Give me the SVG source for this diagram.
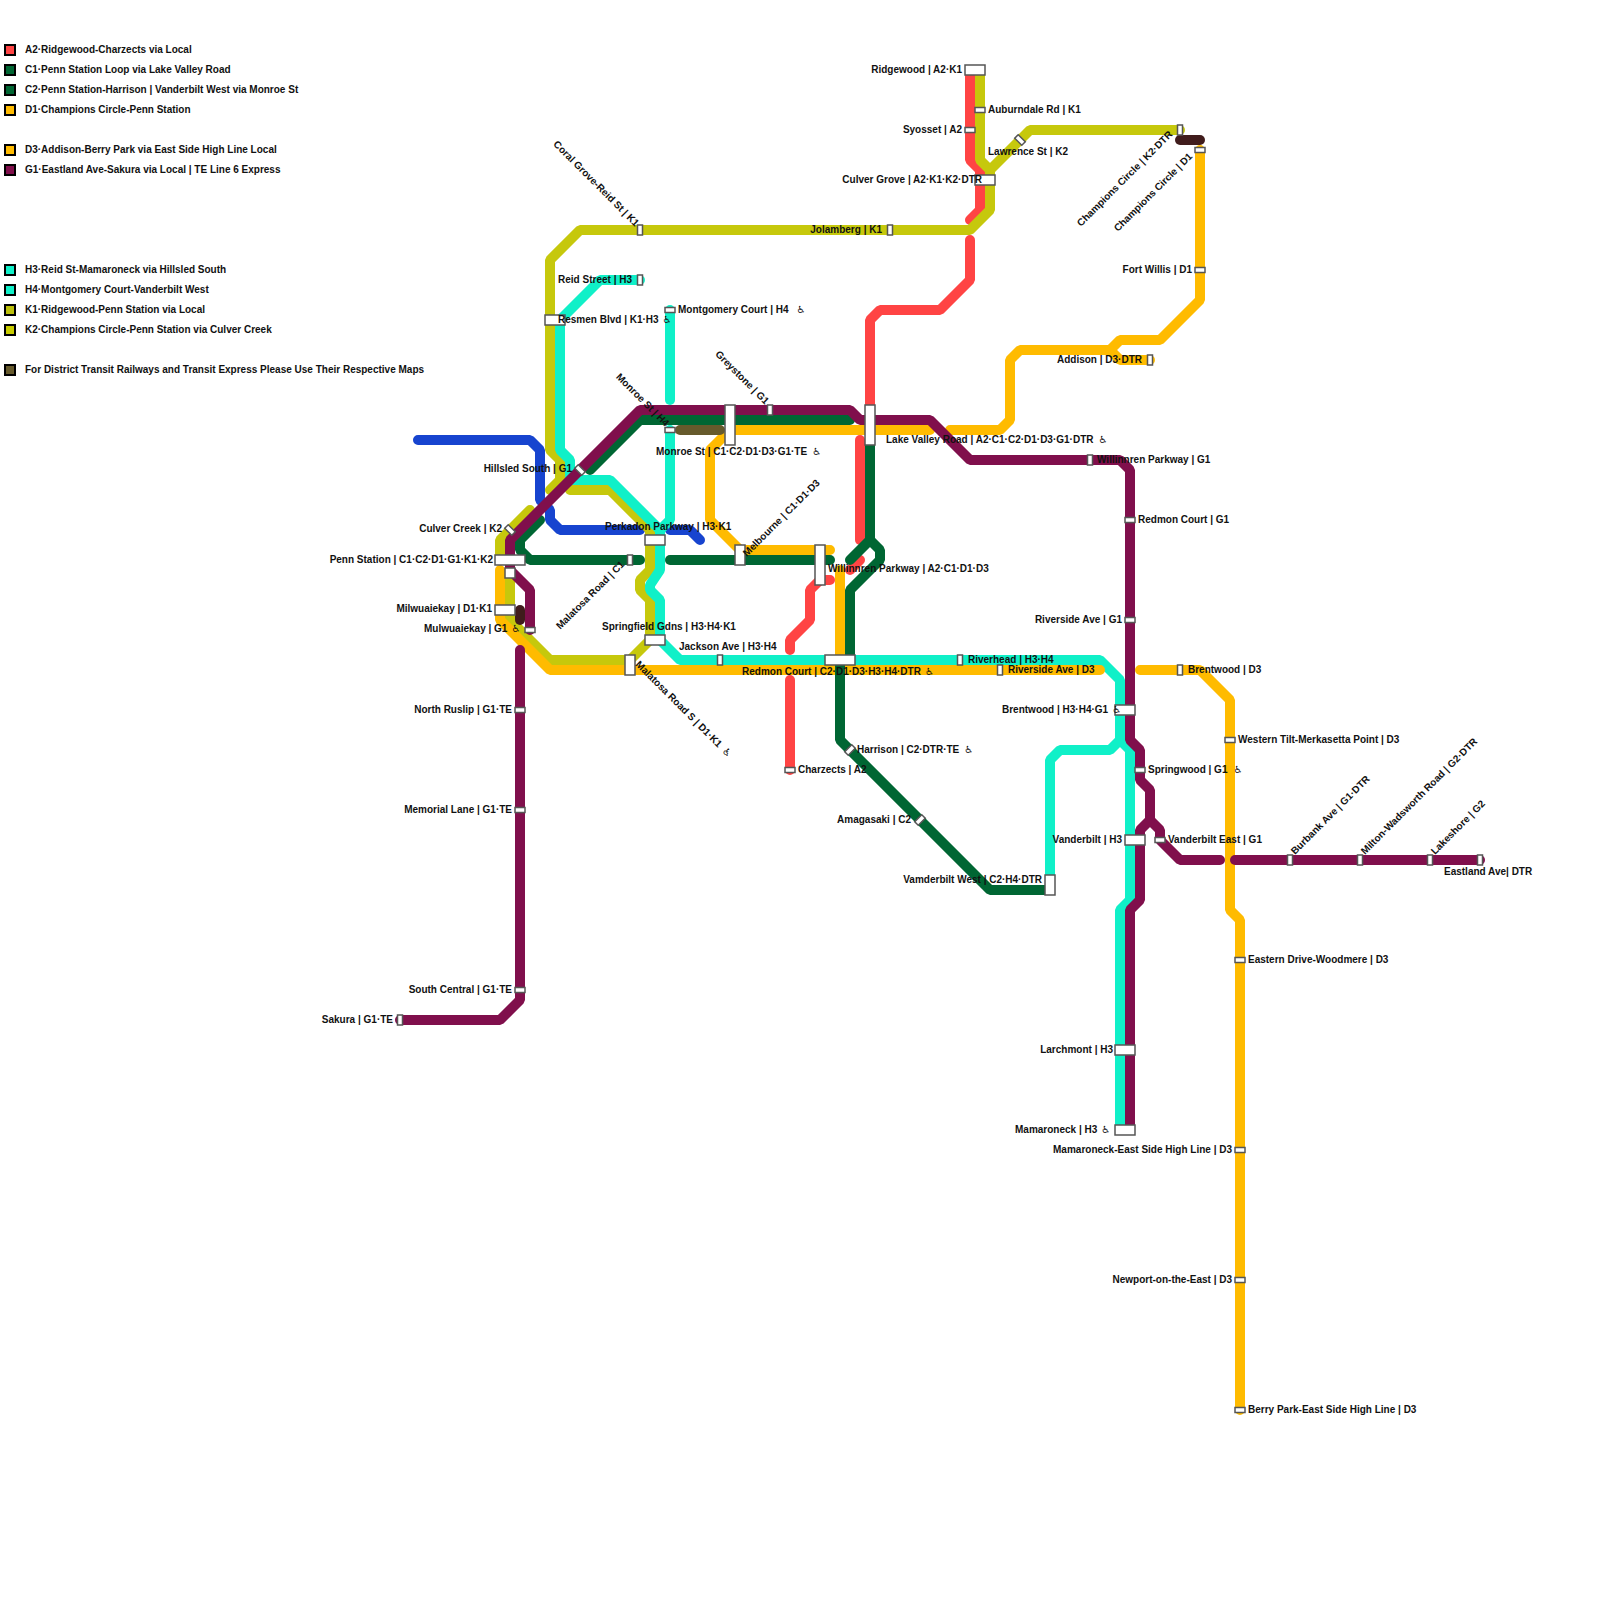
<svg xmlns="http://www.w3.org/2000/svg" width="1600" height="1600" viewBox="0 0 1600 1600">
<style>
text{font-family:"Liberation Sans",Arial,"DejaVu Sans",sans-serif;font-size:10px;font-weight:bold;fill:#111}
.e{text-anchor:end}
.w{font-family:"DejaVu Sans",sans-serif;font-weight:normal}
.k{fill:none;stroke-width:10;stroke-linecap:round;stroke-linejoin:bevel}
.a{stroke:#ff4444}.c{stroke:#006633}.d{stroke:#ffbb00}.g{stroke:#800f4c}.h{stroke:#10f0c8}.y{stroke:#c6c80c}.b{stroke:#1744cf}.o{stroke:#665a2c}.m{stroke:#401c1c}
.st{fill:#fff;stroke:#555;stroke-width:1.5}
.lg{stroke:#000;stroke-width:2}
</style>
<rect width="1600" height="1600" fill="#fff"/>
<g id="legend">
<rect class="lg" x="5" y="45" width="10" height="10" fill="#ff4444"/><text x="25" y="53">A2·Ridgewood-Charzects via Local</text>
<rect class="lg" x="5" y="65" width="10" height="10" fill="#006633"/><text x="25" y="73">C1·Penn Station Loop via Lake Valley Road</text>
<rect class="lg" x="5" y="85" width="10" height="10" fill="#006633"/><text x="25" y="93">C2·Penn Station-Harrison | Vanderbilt West via Monroe St</text>
<rect class="lg" x="5" y="105" width="10" height="10" fill="#ffbb00"/><text x="25" y="113">D1·Champions Circle-Penn Station</text>
<rect class="lg" x="5" y="145" width="10" height="10" fill="#ffbb00"/><text x="25" y="153">D3·Addison-Berry Park via East Side High Line Local</text>
<rect class="lg" x="5" y="165" width="10" height="10" fill="#800f4c"/><text x="25" y="173">G1·Eastland Ave-Sakura via Local | TE Line 6 Express</text>
<rect class="lg" x="5" y="265" width="10" height="10" fill="#10f0c8"/><text x="25" y="273">H3·Reid St-Mamaroneck via Hillsled South</text>
<rect class="lg" x="5" y="285" width="10" height="10" fill="#10f0c8"/><text x="25" y="293">H4·Montgomery Court-Vanderbilt West</text>
<rect class="lg" x="5" y="305" width="10" height="10" fill="#bcc00c"/><text x="25" y="313">K1·Ridgewood-Penn Station via Local</text>
<rect class="lg" x="5" y="325" width="10" height="10" fill="#c8cc00"/><text x="25" y="333">K2·Champions Circle-Penn Station via Culver Creek</text>
<rect class="lg" x="5" y="365" width="10" height="10" fill="#665a2c"/><text x="25" y="373">For District Transit Railways and Transit Express Please Use Their Respective Maps</text>
</g>
<g id="connectors">
<polyline class="k a" points="970,70 970,160 980,170 980,210 970,220"/>
<polyline class="k a" points="970,240 970,280 940,310 880,310 870,320 870,420"/>
<polyline class="k a" points="860,440 860,540"/>
<polyline class="k a" points="850,570 860,560"/>
<polyline class="k a" points="830,580 820,580 810,590 810,620 790,640 790,650"/>
<polyline class="k a" points="790,680 790,770"/>
<polyline class="k b" points="418,440 530,440 540,450 540,500 550,510 550,520 560,530 640,530"/>
<polyline class="k b" points="670,530 690,530 700,540"/>
<polyline class="k y" points="980,70 980,160 990,170 990,210 970,230 580,230 550,260 550,450 560,460 560,480 550,490"/>
<polyline class="k y" points="570,490 610,490 650,530 650,570 640,580 640,590 650,600 650,640 630,660 550,660 510,620 510,570"/>
<polyline class="k y" points="1180,130 1030,130 990,170"/>
<polyline class="k y" points="500,560 500,540 530,510"/>
<polyline class="k h" points="640,280 600,280 560,320 560,450 570,460 570,480 610,480 660,530 660,570 650,585 650,590 660,600 660,640 680,660 1100,660 1120,680 1120,740 1130,750 1130,900 1120,910 1120,1130"/>
<polyline class="k h" points="1120,740 1110,750 1060,750 1050,760 1050,880"/>
<polyline class="k h" points="670,310 670,400"/>
<polyline class="k h" points="670,430 670,520 660,530"/>
<polyline class="k d" points="1200,150 1200,300 1160,340 1120,340 1110,350 1020,350 1010,360 1010,420 1000,430 950,430"/>
<polyline class="k d" points="1150,360 1120,360 1110,350"/>
<polyline class="k d" points="930,430 730,430 710,450 710,520 740,550 830,550"/>
<polyline class="k d" points="840,570 840,660"/>
<polyline class="k d" points="500,570 500,620 550,670 1100,670"/>
<polyline class="k d" points="1140,670 1200,670 1230,700 1230,910 1240,920 1240,1410"/>
<polyline class="k o" points="680,430 720,430"/>
<polyline class="k m" points="520,610 520,620"/>
<polyline class="k m" points="1180,140 1200,140"/>
<polyline class="k c" points="850,420 640,420 590,470"/>
<polyline class="k c" points="540,520 520,540 520,550 530,560 640,560"/>
<polyline class="k c" points="670,560 830,560"/>
<polyline class="k c" points="870,420 870,540 850,560"/>
<polyline class="k c" points="870,540 880,550 880,560 850,590 850,660"/>
<polyline class="k c" points="840,660 840,740 990,890 1050,890"/>
<polyline class="k g" points="1480,860 1235,860"/>
<polyline class="k g" points="1220,860 1180,860 1160,840 1160,830 1150,820 1150,790 1140,780 1140,750 1130,740 1130,470 1120,460 970,460 930,420 860,420 850,410 640,410 510,540 510,570 520,580 530,590 530,630"/>
<polyline class="k g" points="1150,820 1140,830 1140,900 1130,910 1130,1130"/>
<polyline class="k g" points="520,650 520,1000 500,1020 400,1020"/>
</g>
<g id="n01"><rect class="st" x="965" y="65" width="20" height="10"/><text class="e" x="962" y="73">Ridgewood | A2·K1</text></g>
<g id="n02"><rect class="st" x="975" y="107.500" width="10" height="5"/><text x="988" y="113">Auburndale Rd | K1</text></g>
<g id="n03"><rect class="st" x="965" y="127.500" width="10" height="5"/><text class="e" x="962" y="133">Syosset | A2</text></g>
<g id="n04"><rect class="st" x="-2.500" y="-5" width="5" height="10" transform="translate(1020,140) rotate(-45)"/><text x="988" y="155">Lawrence St | K2</text></g>
<g id="n05"><rect class="st" x="975" y="175" width="20" height="10"/><text class="e" x="982" y="183">Culver Grove | A2·K1·K2·DTR</text></g>
<g id="n06"><rect class="st" x="887.500" y="225" width="5" height="10"/><text class="e" x="882" y="233">Jolamberg | K1</text></g>
<g id="n07"><rect class="st" x="1177.500" y="125" width="5" height="10"/><text class="e" transform="translate(1173,135) rotate(-45)">Champions Circle | K2·DTR</text></g>
<g id="n08"><rect class="st" x="1195" y="147.500" width="10" height="5"/><text class="e" transform="translate(1193,157) rotate(-45)">Champions Circle | D1</text></g>
<g id="n09"><rect class="st" x="1195" y="267.500" width="10" height="5"/><text class="e" x="1192" y="273">Fort Willis | D1</text></g>
<g id="n10"><rect class="st" x="1147.500" y="355" width="5" height="10"/><text class="e" x="1142" y="363">Addison | D3·DTR</text></g>
<g id="n11"><rect class="st" x="637.500" y="225" width="5" height="10"/><text class="e" transform="translate(635,227) rotate(45)">Coral Grove-Reid St | K1</text></g>
<g id="n12"><rect class="st" x="637.500" y="275" width="5" height="10"/><text class="e" x="632" y="283">Reid Street | H3</text></g>
<g id="n13"><rect class="st" x="665" y="307.500" width="10" height="5"/><text x="678" y="313">Montgomery Court | H4<tspan class="w" dx="8">♿</tspan></text></g>
<g id="n14"><rect class="st" x="545" y="315" width="20" height="10"/><text x="558" y="323">Resmen Blvd | K1·H3<tspan class="w" dx="4">♿</tspan></text></g>
<g id="n15"><rect class="st" x="767.500" y="405" width="5" height="10"/><text class="e" transform="translate(765,405) rotate(45)">Greystone | G1</text></g>
<g id="n16"><rect class="st" x="665" y="427.500" width="10" height="5"/><text class="e" transform="translate(665,427) rotate(45)">Monroe St | H4</text></g>
<g id="n17"><rect class="st" x="725" y="405" width="10" height="40"/><text x="656" y="455">Monroe St | C1·C2·D1·D3·G1·TE<tspan class="w" dx="5">♿</tspan></text></g>
<g id="n18"><rect class="st" x="865" y="405" width="10" height="40"/><text x="886" y="443">Lake Valley Road | A2·C1·C2·D1·D3·G1·DTR<tspan class="w" dx="5">♿</tspan></text></g>
<g id="n19"><rect class="st" x="1087.500" y="455" width="5" height="10"/><text x="1097" y="463">Willinnren Parkway | G1</text></g>
<g id="n20"><rect class="st" x="1125" y="517.500" width="10" height="5"/><text x="1138" y="523">Redmon Court | G1</text></g>
<g id="n21"><rect class="st" x="1125" y="617.500" width="10" height="5"/><text class="e" x="1122" y="623">Riverside Ave | G1</text></g>
<g id="n22"><rect class="st" x="997.500" y="665" width="5" height="10"/><text x="1008" y="673">Riverside Ave | D3</text></g>
<g id="n23"><rect class="st" x="957.500" y="655" width="5" height="10"/><text x="968" y="663">Riverhead | H3·H4</text></g>
<g id="n24"><rect class="st" x="1177.500" y="665" width="5" height="10"/><text x="1188" y="673">Brentwood | D3</text></g>
<g id="n25"><rect class="st" x="1115" y="705" width="20" height="10"/><text x="1002" y="713">Brentwood | H3·H4·G1<tspan class="w" dx="4">♿</tspan></text></g>
<g id="n26"><rect class="st" x="1225" y="737.500" width="10" height="5"/><text x="1238" y="743">Western Tilt-Merkasetta Point | D3</text></g>
<g id="n27"><rect class="st" x="1135" y="767.500" width="10" height="5"/><text x="1148" y="773">Springwood | G1<tspan class="w" dx="6">♿</tspan></text></g>
<g id="n28"><rect class="st" x="1125" y="835" width="20" height="10"/><text class="e" x="1122" y="843">Vanderbilt | H3</text></g>
<g id="n29"><rect class="st" x="1155" y="837.500" width="10" height="5"/><text x="1168" y="843">Vanderbilt East | G1</text></g>
<g id="n30"><rect class="st" x="1045" y="875" width="10" height="20"/><text class="e" x="1042" y="883">Vamderbilt West | C2·H4·DTR</text></g>
<g id="n31"><rect class="st" x="1287.500" y="855" width="5" height="10"/><text transform="translate(1295,855) rotate(-45)">Burbank Ave | G1·DTR</text></g>
<g id="n32"><rect class="st" x="1357.500" y="855" width="5" height="10"/><text transform="translate(1365,855) rotate(-45)">Milton-Wadsworth Road | G2·DTR</text></g>
<g id="n33"><rect class="st" x="1427.500" y="855" width="5" height="10"/><text transform="translate(1435,855) rotate(-45)">Lakeshore | G2</text></g>
<g id="n34"><rect class="st" x="1477.500" y="855" width="5" height="10"/><text x="1444" y="875">Eastland Ave| DTR</text></g>
<g id="n35"><rect class="st" x="1235" y="957.500" width="10" height="5"/><text x="1248" y="963">Eastern Drive-Woodmere | D3</text></g>
<g id="n36"><rect class="st" x="1235" y="1147.500" width="10" height="5"/><text class="e" x="1232" y="1153">Mamaroneck-East Side High Line | D3</text></g>
<g id="n37"><rect class="st" x="1235" y="1277.500" width="10" height="5"/><text class="e" x="1232" y="1283">Newport-on-the-East | D3</text></g>
<g id="n38"><rect class="st" x="1235" y="1407.500" width="10" height="5"/><text x="1248" y="1413">Berry Park-East Side High Line | D3</text></g>
<g id="n39"><rect class="st" x="1115" y="1045" width="20" height="10"/><text class="e" x="1113" y="1053">Larchmont | H3</text></g>
<g id="n40"><rect class="st" x="1115" y="1125" width="20" height="10"/><text x="1015" y="1133">Mamaroneck | H3<tspan class="w" dx="4">♿</tspan></text></g>
<g id="n41"><rect class="st" x="-2.500" y="-5" width="5" height="10" transform="translate(850,750) rotate(45)"/><text x="857" y="753">Harrison | C2·DTR·TE<tspan class="w" dx="5">♿</tspan></text></g>
<g id="n42"><rect class="st" x="-2.500" y="-5" width="5" height="10" transform="translate(920,820) rotate(45)"/><text class="e" x="911" y="823">Amagasaki | C2</text></g>
<g id="n43"><rect class="st" x="785" y="767.500" width="10" height="5"/><text x="798" y="773">Charzects | A2</text></g>
<g id="n44"><rect class="st" x="625" y="655" width="10" height="20"/><text transform="translate(635,665) rotate(45)">Malatosa Road S | D1·K1<tspan class="w" dx="5">♿</tspan></text></g>
<g id="n45"><rect class="st" x="645" y="635" width="20" height="10"/><text x="602" y="630">Springfield Gdns | H3·H4·K1</text></g>
<g id="n46"><rect class="st" x="645" y="535" width="20" height="10"/><text x="605" y="530">Perkadon Parkway | H3·K1</text></g>
<g id="n47"><rect class="st" x="717.500" y="655" width="5" height="10"/><text x="679" y="650">Jackson Ave | H3·H4</text></g>
<g id="n48"><rect class="st" x="825" y="655" width="30" height="10"/><text x="742" y="675">Redmon Court | C2·D1·D3·H3·H4·DTR<tspan class="w" dx="4">♿</tspan></text></g>
<g id="n49"><rect class="st" x="735" y="545" width="10" height="20"/><text transform="translate(747,557) rotate(-45)">Melbourne | C1·D1·D3</text></g>
<g id="n50"><rect class="st" x="815" y="545" width="10" height="40"/><text x="828" y="572">Willinnren Parkway | A2·C1·D1·D3</text></g>
<g id="n51"><rect class="st" x="627.500" y="555" width="5" height="10"/><text class="e" transform="translate(625,565) rotate(-45)">Malatosa Road | C1</text></g>
<g id="n52"><rect class="st" x="575" y="467.500" width="10" height="5" transform="rotate(45 580 470)"/><text class="e" x="572" y="472">Hillsled South | G1</text></g>
<g id="n53"><rect class="st" x="-2.500" y="-5" width="5" height="10" transform="translate(510,530) rotate(-45)"/><text class="e" x="502" y="532">Culver Creek | K2</text></g>
<g id="n54"><rect class="st" x="495" y="555" width="30" height="10"/><text class="e" x="493" y="563">Penn Station | C1·C2·D1·G1·K1·K2</text></g>
<g id="n55"><rect class="st" x="505" y="568" width="10" height="10"/></g>
<g id="n56"><rect class="st" x="495" y="605" width="20" height="10"/><text class="e" x="492" y="612">Milwuaiekay | D1·K1</text></g>
<g id="n57"><rect class="st" x="525" y="627.500" width="10" height="5"/><text x="424" y="632">Mulwuaiekay | G1<tspan class="w" dx="4">♿</tspan></text></g>
<g id="n58"><rect class="st" x="515" y="707.500" width="10" height="5"/><text class="e" x="512" y="713">North Ruslip | G1·TE</text></g>
<g id="n59"><rect class="st" x="515" y="807.500" width="10" height="5"/><text class="e" x="512" y="813">Memorial Lane | G1·TE</text></g>
<g id="n60"><rect class="st" x="515" y="987.500" width="10" height="5"/><text class="e" x="512" y="993">South Central | G1·TE</text></g>
<g id="n61"><rect class="st" x="397.500" y="1015" width="5" height="10"/><text class="e" x="393" y="1023">Sakura | G1·TE</text></g>
</svg>
